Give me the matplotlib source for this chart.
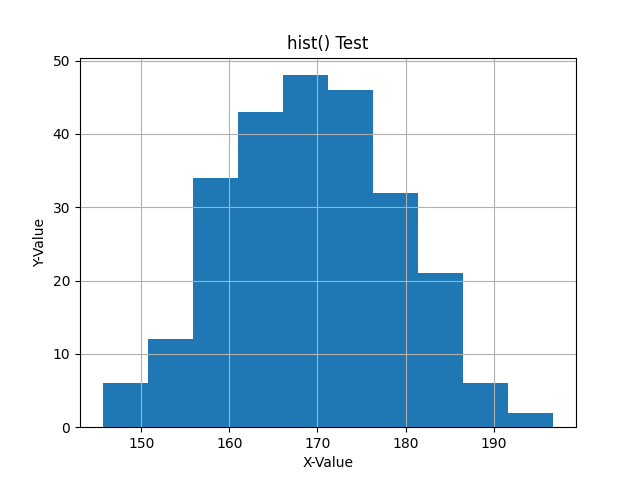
import numpy as np
import matplotlib
matplotlib.use("Agg")
import matplotlib.pyplot as plt

# Histogram data
data_min = 145.6
data_max = 196.8
counts = [6, 12, 34, 43, 48, 46, 32, 21, 6, 2]

edges = np.linspace(data_min, data_max, len(counts) + 1)
centers = (edges[:-1] + edges[1:]) / 2

fig, ax = plt.subplots(figsize=(6.4, 4.8), dpi=100)
ax.hist(centers, bins=edges, weights=counts)
ax.set_title("hist() Test")
ax.set_xlabel("X-Value")
ax.set_ylabel("Y-Value")
ax.grid(True)
fig.savefig("out.png")
